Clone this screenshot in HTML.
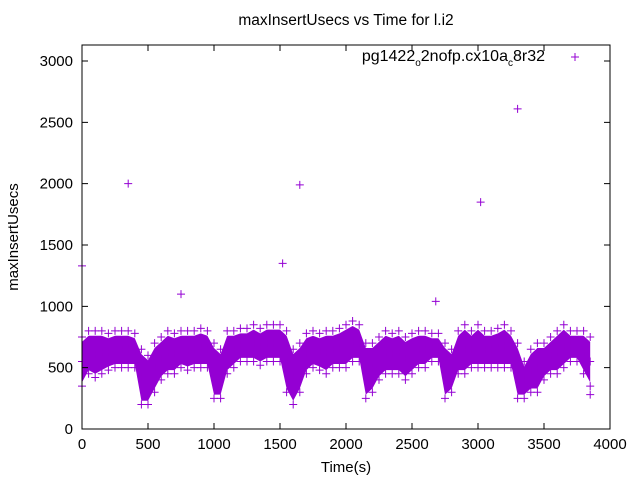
<!DOCTYPE html>
<html><head><meta charset="utf-8"><style>
body{margin:0;background:#fff;}
svg{display:block;font-family:"Liberation Sans",sans-serif;}
</style></head><body>
<svg id="chart" width="640" height="480" viewBox="0 0 640 480">
<rect width="640" height="480" fill="#fff"/>
<text x="346" y="25" font-size="15.5" text-anchor="middle">maxInsertUsecs vs Time for l.i2</text>
<g id="plot"></g>
<g id="axes"></g>
<text transform="translate(18,237) rotate(-90)" font-size="15" text-anchor="middle">maxInsertUsecs</text>
<text x="346" y="472" font-size="15" text-anchor="middle">Time(s)</text>
<g>
<text x="545" y="61" font-size="16" text-anchor="end">pg1422<tspan font-size="10" dy="5">o</tspan><tspan dy="-5">2nofp.cx10a</tspan><tspan font-size="10" dy="5">c</tspan><tspan dy="-5">8r32</tspan></text>
<path d="M571,57h8M575,53v8" stroke="#9400d3" stroke-width="1"/>
</g>
</svg>
<script>
const times=[0,50,100,150,200,250,300,350,400,450,500,550,600,650,700,750,800,850,900,950,1000,1050,1100,1150,1200,1250,1300,1350,1400,1450,1500,1550,1600,1650,1700,1750,1800,1850,1900,1950,2000,2050,2100,2150,2200,2250,2300,2350,2400,2450,2500,2550,2600,2650,2700,2750,2800,2850,2900,2950,3000,3050,3100,3150,3200,3250,3300,3350,3400,3450,3500,3550,3600,3650,3700,3750,3800,3850];
const lows=[350,450,420,450,480,500,500,500,500,200,200,300,400,450,450,500,480,500,500,500,250,250,450,500,550,550,550,520,550,550,550,300,200,300,450,500,480,450,500,500,500,550,550,250,300,400,450,450,450,400,450,500,500,550,550,250,300,450,450,500,500,500,500,500,500,500,250,250,300,300,400,450,450,500,550,550,450,350];
const highs=[750,800,800,800,780,800,800,800,780,650,600,700,750,800,780,800,800,800,820,800,700,650,800,800,820,820,850,820,850,850,850,800,650,700,780,800,780,800,800,820,850,880,850,700,700,750,800,780,800,750,780,800,800,780,780,700,650,800,850,800,850,800,800,820,850,800,700,550,650,700,700,750,800,850,800,800,800,750];
const outT=[0,350,750,1520,1650,2680,3020,3300,3850];
const outV=[1330,2000,1100,1350,1990,1040,1850,2610,280];
const xTicks=[0,500,1000,1500,2000,2500,3000,3500,4000];
const yTicks=[0,500,1000,1500,2000,2500,3000];
const X0=82,X1=610,Y0=429,YT=45;
const xs=t=>X0+t*(X1-X0)/4000;
const ys=v=>Y0-v*(429-61)/3000;
const NS="http://www.w3.org/2000/svg";
const plotG=document.getElementById('plot'),axesG=document.getElementById('axes');
const C="#9400d3";
const upperPts=[],lowerPts=[];
times.forEach((t,i)=>{upperPts.push(xs(t)+','+ys(highs[i]-40));lowerPts.unshift(xs(t)+','+ys(lows[i]+30));});
const band=document.createElementNS(NS,'polygon');
band.setAttribute('points',upperPts.concat(lowerPts).join(' '));
band.setAttribute('fill',C);


plotG.appendChild(band);
function cross(x,y,name){
const p=document.createElementNS(NS,'path');
p.setAttribute('d',`M${x-4},${y}h8M${x},${y-4}v8`);
p.setAttribute('stroke',C);p.setAttribute('stroke-width','1');


plotG.appendChild(p);}
times.forEach((t,i)=>{
cross(xs(t),ys(lows[i]),'point-low');
cross(xs(t),ys(highs[i]),'point-high');
cross(xs(t),ys((lows[i]+highs[i])/2),'point-mid');
});
outT.forEach((t,i)=>cross(xs(t),ys(outV[i]),'outlier-point'));
const fr=document.createElementNS(NS,'rect');
fr.setAttribute('x',X0);fr.setAttribute('y',YT);fr.setAttribute('width',X1-X0);fr.setAttribute('height',Y0-YT);
fr.setAttribute('fill','none');fr.setAttribute('stroke','#000');


axesG.appendChild(fr);
xTicks.forEach(v=>{
const x=xs(v);
const l=document.createElementNS(NS,'path');
l.setAttribute('d',`M${x},${Y0}v-6M${x},${YT}v6`);l.setAttribute('stroke','#000');


axesG.appendChild(l);
const tx=document.createElementNS(NS,'text');
tx.setAttribute('x',x);tx.setAttribute('y',Y0+20);tx.setAttribute('font-size','15');tx.setAttribute('text-anchor','middle');
tx.textContent=v;


axesG.appendChild(tx);});
yTicks.forEach(v=>{
const y=ys(v);
const l=document.createElementNS(NS,'path');
l.setAttribute('d',`M${X0},${y}h6M${X1},${y}h-6`);l.setAttribute('stroke','#000');


axesG.appendChild(l);
const tx=document.createElementNS(NS,'text');
tx.setAttribute('x',X0-9);tx.setAttribute('y',y+5);tx.setAttribute('font-size','15');tx.setAttribute('text-anchor','end');
tx.textContent=v;


axesG.appendChild(tx);});
</script>
</body></html>
